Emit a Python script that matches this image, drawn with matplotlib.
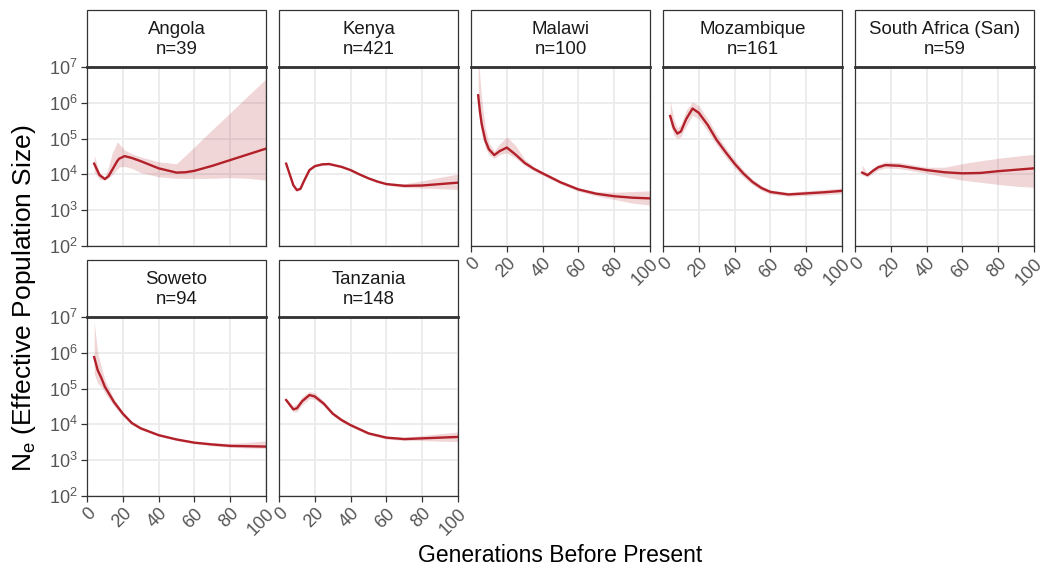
import numpy as np
import matplotlib.pyplot as plt
from matplotlib.patches import Rectangle
from matplotlib.ticker import LogLocator, NullLocator, NullFormatter

plt.rcParams['font.family'] = ['Liberation Sans', 'DejaVu Sans']
plt.rcParams['mathtext.fontset'] = 'custom'
plt.rcParams['mathtext.rm'] = 'Liberation Sans'
plt.rcParams['mathtext.it'] = 'Liberation Sans:italic'

# Данные: log10(Ne) по поколениям, линия и границы ленты
populations = ['Angola', 'Kenya', 'Malawi', 'Mozambique', 'South Africa (San)', 'Soweto', 'Tanzania']
sample_sizes = [39, 421, 100, 161, 59, 94, 148]

angola_x = [4, 7, 10, 12, 14, 17, 18, 21, 25, 30, 40, 50, 55, 60, 70, 80, 90, 100]
angola_ne = [4.30, 3.98, 3.87, 3.95, 4.12, 4.38, 4.44, 4.51, 4.46, 4.37, 4.17, 4.05, 4.06, 4.10, 4.24, 4.40, 4.56, 4.72]
angola_lo = [4.07, 3.86, 3.84, 3.90, 3.98, 4.15, 4.21, 4.22, 4.17, 4.05, 3.93, 3.89, 3.89, 3.89, 3.89, 3.91, 3.89, 3.84]
angola_hi = [4.54, 4.05, 3.93, 4.20, 4.58, 4.91, 4.85, 4.68, 4.58, 4.49, 4.35, 4.30, 4.53, 4.77, 5.25, 5.72, 6.20, 6.67]

kenya_x = [4, 6, 8, 10, 12, 14, 17, 20, 24, 28, 35, 40, 45, 50, 55, 60, 70, 80, 90, 100]
kenya_ne = [4.30, 4.00, 3.70, 3.56, 3.60, 3.82, 4.12, 4.23, 4.28, 4.29, 4.21, 4.12, 4.00, 3.89, 3.80, 3.73, 3.68, 3.69, 3.73, 3.77]
kenya_lo = [4.27, 3.97, 3.67, 3.53, 3.57, 3.79, 4.09, 4.20, 4.25, 4.26, 4.18, 4.09, 3.97, 3.86, 3.77, 3.70, 3.63, 3.62, 3.60, 3.58]
kenya_hi = [4.33, 4.03, 3.73, 3.59, 3.63, 3.85, 4.15, 4.26, 4.31, 4.32, 4.24, 4.15, 4.03, 3.92, 3.83, 3.76, 3.74, 3.82, 3.92, 4.01]

malawi_x = [4, 5, 6, 8, 10, 13, 16, 20, 25, 30, 35, 40, 50, 60, 70, 80, 90, 100]
malawi_ne = [6.21, 5.75, 5.40, 4.95, 4.70, 4.54, 4.65, 4.75, 4.55, 4.32, 4.16, 4.03, 3.78, 3.58, 3.46, 3.39, 3.35, 3.33]
malawi_lo = [5.90, 5.45, 5.10, 4.75, 4.55, 4.45, 4.55, 4.60, 4.45, 4.25, 4.10, 3.98, 3.73, 3.53, 3.40, 3.30, 3.20, 3.14]
malawi_hi = [7.50, 6.70, 6.10, 5.30, 4.90, 4.65, 4.85, 5.05, 4.80, 4.42, 4.22, 4.08, 3.83, 3.63, 3.52, 3.50, 3.52, 3.54]

mozambique_x = [4, 6, 8, 10, 13, 16.5, 20, 25, 30, 35, 40, 45, 50, 55, 60, 70, 80, 90, 100]
mozambique_ne = [5.63, 5.30, 5.14, 5.20, 5.55, 5.84, 5.72, 5.38, 4.96, 4.62, 4.30, 4.02, 3.79, 3.62, 3.51, 3.44, 3.47, 3.50, 3.54]
mozambique_lo = [5.40, 5.10, 5.00, 5.05, 5.35, 5.65, 5.55, 5.20, 4.82, 4.48, 4.18, 3.92, 3.71, 3.55, 3.45, 3.39, 3.41, 3.43, 3.46]
mozambique_hi = [6.07, 5.55, 5.30, 5.40, 5.80, 6.02, 5.92, 5.55, 5.12, 4.75, 4.42, 4.12, 3.87, 3.69, 3.57, 3.50, 3.54, 3.58, 3.62]

san_x = [4, 7, 10, 13, 17, 25, 30, 40, 50, 60, 70, 80, 90, 100]
san_ne = [4.05, 3.98, 4.10, 4.20, 4.26, 4.24, 4.20, 4.12, 4.06, 4.03, 4.04, 4.09, 4.13, 4.17]
san_lo = [3.98, 3.93, 4.03, 4.12, 4.18, 4.16, 4.12, 4.03, 3.93, 3.84, 3.78, 3.72, 3.67, 3.64]
san_hi = [4.26, 4.02, 4.18, 4.28, 4.35, 4.33, 4.29, 4.20, 4.20, 4.30, 4.38, 4.45, 4.51, 4.56]

soweto_x = [4, 6, 8, 10, 15, 20, 25, 30, 40, 50, 60, 70, 80, 90, 100]
soweto_ne = [5.88, 5.51, 5.30, 5.05, 4.63, 4.30, 4.04, 3.89, 3.70, 3.58, 3.49, 3.44, 3.40, 3.39, 3.38]
soweto_lo = [5.42, 5.15, 5.05, 4.88, 4.52, 4.23, 3.99, 3.85, 3.67, 3.55, 3.46, 3.40, 3.36, 3.34, 3.33]
soweto_hi = [6.86, 6.00, 5.60, 5.25, 4.72, 4.36, 4.09, 3.93, 3.73, 3.61, 3.52, 3.48, 3.47, 3.50, 3.54]

tanzania_x = [4, 6, 8, 10, 13, 17, 20, 25, 30, 35, 40, 50, 60, 70, 80, 90, 100]
tanzania_ne = [4.68, 4.55, 4.42, 4.45, 4.65, 4.82, 4.78, 4.58, 4.30, 4.12, 3.98, 3.75, 3.63, 3.59, 3.61, 3.63, 3.65]
tanzania_lo = [4.64, 4.48, 4.35, 4.35, 4.55, 4.72, 4.70, 4.52, 4.25, 4.07, 3.94, 3.71, 3.59, 3.55, 3.55, 3.53, 3.52]
tanzania_hi = [4.72, 4.62, 4.52, 4.58, 4.78, 4.92, 4.88, 4.65, 4.36, 4.17, 4.02, 3.79, 3.67, 3.64, 3.69, 3.74, 3.79]

series = [
    (angola_x, angola_ne, angola_lo, angola_hi),
    (kenya_x, kenya_ne, kenya_lo, kenya_hi),
    (malawi_x, malawi_ne, malawi_lo, malawi_hi),
    (mozambique_x, mozambique_ne, mozambique_lo, mozambique_hi),
    (san_x, san_ne, san_lo, san_hi),
    (soweto_x, soweto_ne, soweto_lo, soweto_hi),
    (tanzania_x, tanzania_ne, tanzania_lo, tanzania_hi),
]

# Раскладка панелей в пикселях
W, H = 1046, 570
col_left = [87, 279, 471, 663, 855]
row_top = [67, 317]
pw, ph = 179, 179
strip_h = 57

line_color = '#B2202A'
edge = '#333333'
tick_grey = '#555555'

fig = plt.figure(figsize=(W / 100, H / 100), dpi=100)

for i, (name, n) in enumerate(zip(populations, sample_sizes)):
    r, c = divmod(i, 5)
    ax = fig.add_axes([col_left[c] / W, 1 - (row_top[r] + ph) / H, pw / W, ph / H])
    x, ne, lo, hi = series[i]
    ax.fill_between(x, 10 ** np.array(lo), 10 ** np.array(hi), color=line_color, alpha=0.18, lw=0)
    ax.plot(x, 10 ** np.array(ne), color=line_color, lw=1.7)
    ax.set_yscale('log')
    ax.set_ylim(1e2, 1e7)
    ax.set_xlim(0, 100)
    ax.set_xticks([0, 20, 40, 60, 80, 100])
    ax.yaxis.set_major_locator(LogLocator(base=10, numticks=10))
    ax.yaxis.set_minor_locator(NullLocator())
    ax.yaxis.set_minor_formatter(NullFormatter())
    ax.grid(True, color='#EBEBEB', lw=1.3)
    ax.set_axisbelow(True)
    for s in ax.spines.values():
        s.set_color(edge)
        s.set_linewidth(0.9)
    ax.tick_params(colors=edge, labelcolor=tick_grey, labelsize=13, length=4, width=0.9, pad=2.5)

    bottom_row = (r == 1) or (c >= 2)
    if bottom_row:
        for lab in ax.get_xticklabels():
            lab.set_rotation(45)
            lab.set_ha('right')
            lab.set_va('top')
            lab.set_rotation_mode('anchor')
    else:
        ax.tick_params(axis='x', bottom=False, labelbottom=False)
    if c != 0:
        ax.tick_params(axis='y', left=False, labelleft=False)

    # Полоса с названием
    ax.add_patch(Rectangle((0, 1), 1, strip_h / ph, transform=ax.transAxes, clip_on=False,
                           facecolor='white', edgecolor=edge, lw=0.9))
    ax.plot([0, 1], [1, 1], transform=ax.transAxes, clip_on=False, color=edge, lw=2)
    ax.text(0.5, 1 + (strip_h / 2 - 1) / ph, f'{name}\nn={n}', transform=ax.transAxes,
            ha='center', va='center', fontsize=13.4, color='#1A1A1A', linespacing=1.25)

fig.text(24 / W, 1 - 298 / H, r'N$_\mathregular{e}$ (Effective Population Size)', rotation=90,
         ha='center', va='center', fontsize=19)
fig.text(560 / W, 1 - 556 / H, 'Generations Before Present', ha='center', va='center', fontsize=16.5)

fig.savefig('out.png', dpi=100)
